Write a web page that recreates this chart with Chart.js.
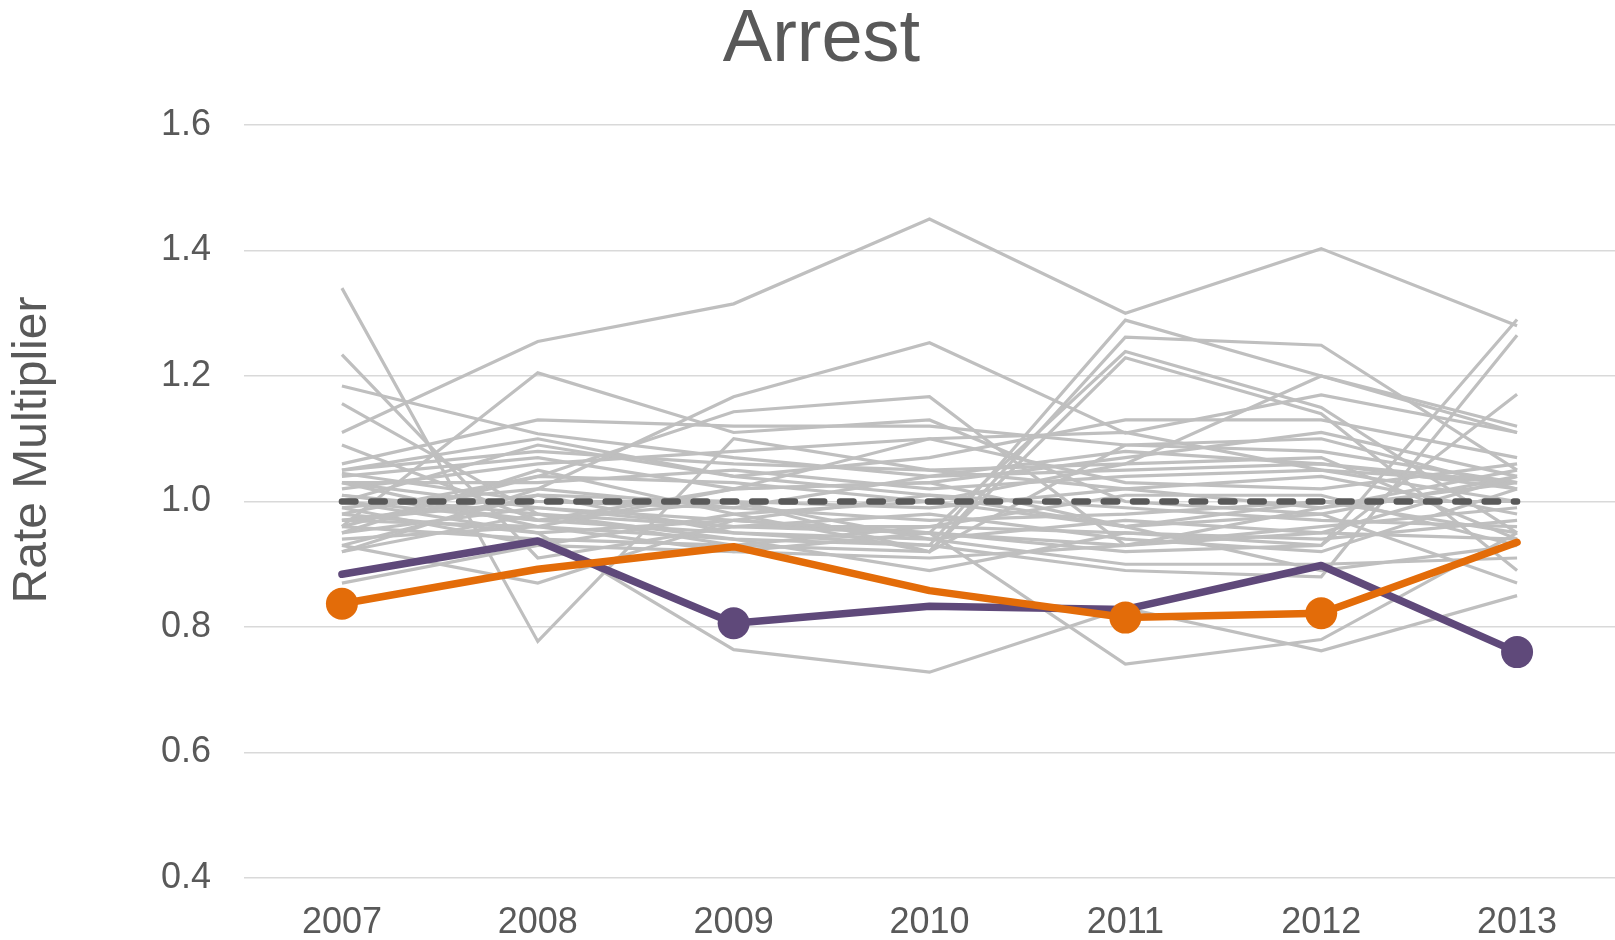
<!DOCTYPE html>
<html>
<head>
<meta charset="utf-8">
<title>Arrest</title>
<script src="https://cdn.jsdelivr.net/npm/chart.js@4.4.0/dist/chart.umd.min.js"></script>
<style>
  html, body { margin: 0; padding: 0; background: #fff; overflow: hidden; }
  #wrap { width: 1615px; height: 940px; position: relative; }
  canvas { display: block; }
</style>
</head>
<body>
<div id="wrap"><canvas id="chart"></canvas></div>
<script>
// ── 数据 ──
const YEARS = ['2007', '2008', '2009', '2010', '2011', '2012', '2013'];
const Y_TICKS = [0.4, 0.6, 0.8, 1.0, 1.2, 1.4, 1.6];
const Y_TITLE = 'Rate Multiplier';

// 基准线
const BASELINE = [1.0, 1.0, 1.0, 1.0, 1.0, 1.0, 1.0];

// 两条高亮线
const PURPLE = [0.884, 0.937, 0.806, 0.833, 0.828, 0.898, 0.760];
const ORANGE = [0.837, 0.892, 0.928, 0.858, 0.815, 0.822, 0.935];
const PURPLE_MARKED = [2, 6];      // 有圆点的年份下标
const ORANGE_MARKED = [0, 4, 5];

// 其余灰线
const OTHERS = [
  [1.110, 1.255, 1.315, 1.450, 1.300, 1.403, 1.280],
  [1.340, 0.777, 1.100, 1.050, 1.020, 0.990, 1.030],
  [1.234, 0.910, 0.960, 0.950, 0.930, 0.950, 1.040],
  [1.184, 1.108, 1.070, 1.040, 1.050, 1.060, 1.030],
  [1.156, 0.980, 0.930, 0.920, 1.090, 1.100, 1.020],
  [1.090, 0.970, 1.020, 1.030, 0.960, 1.000, 0.950],
  [0.960, 1.205, 1.110, 1.130, 1.000, 0.980, 1.040],
  [0.920, 1.020, 1.167, 1.253, 1.109, 1.170, 1.110],
  [0.980, 1.040, 1.143, 1.167, 0.930, 0.990, 1.050],
  [1.000, 0.970, 0.950, 0.930, 1.289, 1.200, 1.110],
  [0.970, 1.000, 1.000, 0.920, 1.262, 1.249, 1.050],
  [1.030, 0.990, 0.970, 0.950, 1.239, 1.150, 0.950],
  [0.950, 1.050, 0.980, 0.920, 1.229, 1.140, 0.890],
  [1.050, 1.080, 1.060, 1.050, 1.060, 1.200, 1.120],
  [0.990, 0.930, 0.920, 0.950, 0.920, 0.930, 1.290],
  [0.970, 0.960, 0.940, 0.930, 0.890, 0.880, 1.265],
  [1.010, 0.980, 0.960, 0.960, 0.950, 0.930, 1.171],
  [1.000, 0.950, 0.764, 0.728, 0.830, 0.762, 0.850],
  [0.930, 0.870, 0.970, 0.950, 0.741, 0.780, 0.950],
  [1.060, 1.130, 1.120, 1.120, 1.090, 1.080, 1.030],
  [1.050, 1.100, 1.040, 1.070, 1.130, 1.130, 1.070],
  [1.040, 1.070, 1.020, 1.030, 1.070, 1.110, 1.040],
  [1.030, 1.030, 1.050, 1.020, 1.040, 1.050, 1.030],
  [1.020, 1.060, 1.080, 1.100, 1.030, 1.020, 1.060],
  [1.010, 0.970, 1.000, 0.990, 1.020, 1.040, 0.980],
  [0.990, 1.020, 0.990, 0.970, 0.980, 1.000, 1.000],
  [0.980, 0.950, 0.970, 1.010, 0.990, 0.970, 0.960],
  [0.970, 1.010, 0.950, 0.940, 0.970, 0.950, 0.940],
  [0.960, 0.940, 0.930, 0.960, 1.010, 1.010, 0.930],
  [0.950, 0.990, 0.960, 0.980, 0.940, 0.920, 1.020],
  [0.940, 0.960, 0.920, 0.910, 0.930, 0.960, 0.990],
  [0.930, 1.010, 1.000, 0.940, 0.900, 0.900, 0.910],
  [0.920, 0.980, 0.940, 0.890, 0.950, 0.940, 0.970],
  [0.870, 0.930, 0.980, 1.000, 0.960, 0.890, 0.930],
  [1.045, 1.000, 0.990, 1.040, 1.080, 1.060, 1.020],
  [1.000, 1.090, 1.040, 1.010, 0.960, 0.980, 0.870],
  [1.030, 0.960, 1.020, 1.100, 1.110, 1.050, 1.000],
  [0.960, 1.040, 1.030, 1.000, 1.060, 1.070, 0.940]
];

// ── 样式 ──
const FONT = 'Liberation Sans, Arial, sans-serif';
const TEXT = '#595959';
const GRAY = '#bfbfbf';
const PURPLE_C = '#5f497a';
const ORANGE_C = '#e36c09';

function markerRadius(marked, r) {
  return YEARS.map((_, i) => marked.includes(i) ? r : 0);
}

// 纵轴标题（位置略高于绘图区中线），并把主标题稍微右移
const yTitlePlugin = {
  id: 'yTitle',
  afterLayout(chart) {
    if (chart.titleBlock) chart.titleBlock.left += 28;
  },
  afterDraw(chart) {
    const ctx = chart.ctx;
    ctx.save();
    ctx.translate(33, 450);
    ctx.rotate(-Math.PI / 2);
    ctx.font = '48px ' + FONT;
    ctx.fillStyle = TEXT;
    ctx.textAlign = 'center';
    ctx.textBaseline = 'middle';
    ctx.fillText(Y_TITLE, 0, 0);
    ctx.restore();
  }
};

const datasets = [
  {
    data: ORANGE,
    borderColor: ORANGE_C,
    backgroundColor: ORANGE_C,
    borderWidth: 7.5,
    borderCapStyle: 'round',
    borderJoinStyle: 'round',
    pointRadius: markerRadius(ORANGE_MARKED, 16),
    pointBorderWidth: 0,
    pointBackgroundColor: ORANGE_C,
    order: 0
  },
  {
    data: PURPLE,
    borderColor: PURPLE_C,
    backgroundColor: PURPLE_C,
    borderWidth: 7.5,
    borderCapStyle: 'round',
    borderJoinStyle: 'round',
    pointRadius: markerRadius(PURPLE_MARKED, 16),
    pointBorderWidth: 0,
    pointBackgroundColor: PURPLE_C,
    order: 1
  },
  {
    data: BASELINE,
    borderColor: TEXT,
    borderWidth: 6.5,
    borderDash: [13.5, 15.8],
    borderCapStyle: 'round',
    pointRadius: 0,
    order: 2
  }
];

OTHERS.forEach(vals => {
  datasets.push({
    data: vals,
    borderColor: GRAY,
    borderWidth: 3.2,
    pointRadius: 0,
    order: 3
  });
});

new Chart(document.getElementById('chart'), {
  type: 'line',
  data: { labels: YEARS, datasets },
  plugins: [yTitlePlugin],
  options: {
    responsive: true,
    maintainAspectRatio: false,
    animation: false,
    events: [],
    layout: { padding: 0, autoPadding: false },
    plugins: {
      legend: { display: false },
      tooltip: { enabled: false },
      title: {
        display: true,
        text: 'Arrest',
        color: TEXT,
        font: { family: FONT, size: 74, weight: 'normal', lineHeight: 1.0 },
        padding: { top: 4, bottom: 47 }
      }
    },
    scales: {
      x: {
        offset: true,
        afterFit: (scale) => {
          scale.height = 62;
          scale.paddingLeft = 0;
          scale.paddingRight = 0;
        },
        grid: { display: false, drawTicks: false },
        border: { display: false },
        ticks: {
          color: TEXT,
          padding: 23,
          maxRotation: 0,
          font: { family: FONT, size: 36 }
        }
      },
      y: {
        min: 0.4,
        max: 1.6,
        afterBuildTicks: (scale) => {
          scale.ticks = Y_TICKS.map(v => ({ value: v }));
        },
        afterFit: (scale) => { scale.width = 244; },
        grid: { color: '#d9d9d9', lineWidth: 1.5, drawTicks: false },
        border: { display: false },
        ticks: {
          color: TEXT,
          padding: 33,
          font: { family: FONT, size: 36 },
          callback: v => Number(v).toFixed(1)
        }
      }
    }
  }
});
</script>
</body>
</html>
